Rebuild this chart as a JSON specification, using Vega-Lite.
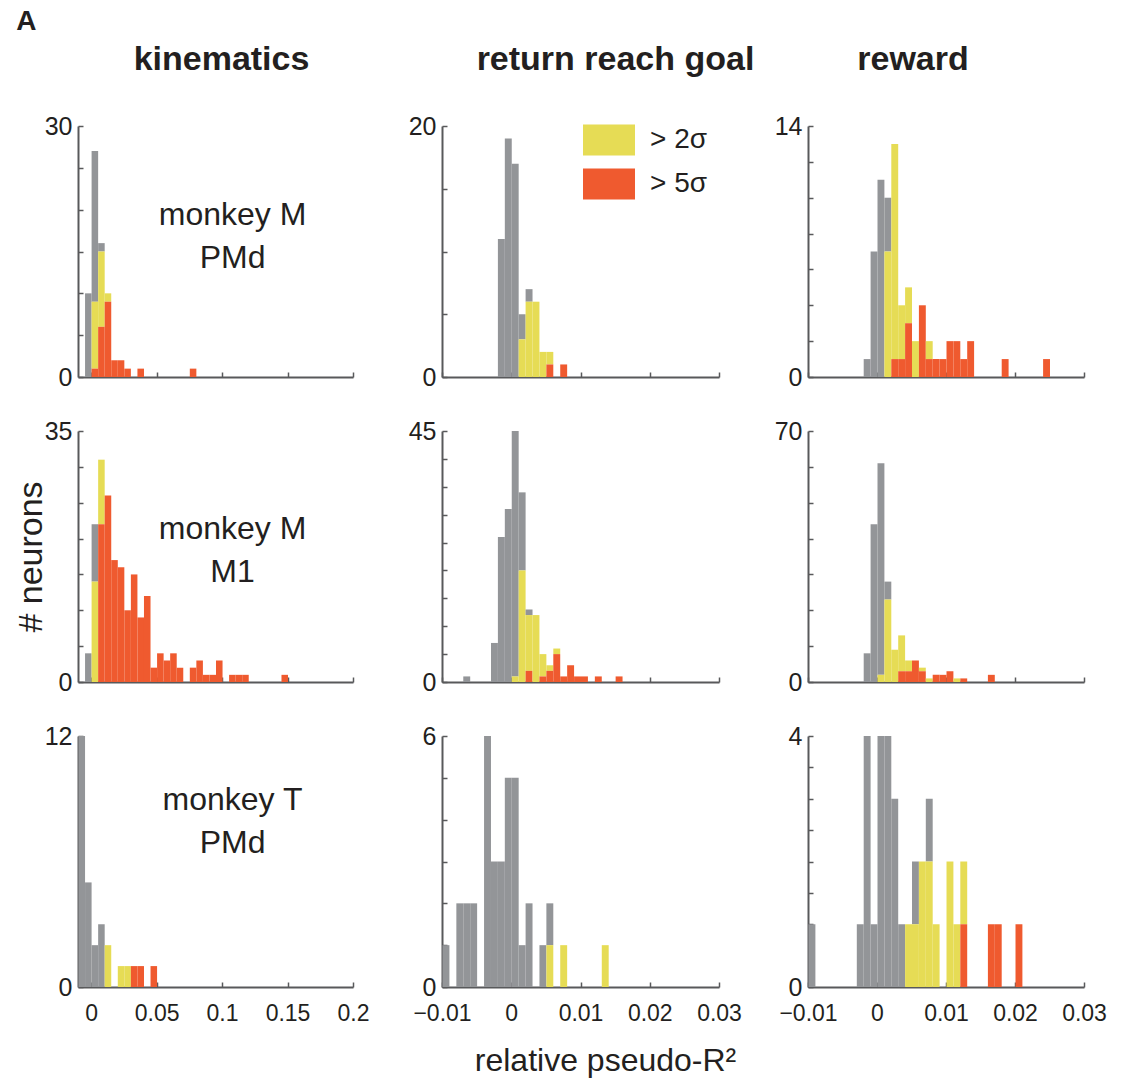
{
"$schema": "https://vega.github.io/schema/vega-lite/v6.json",
"padding": {"left": 14, "top": 8, "right": 10, "bottom": 10},
"title": {"text": "A", "anchor": "start", "frame": "bounds", "fontSize": 28, "fontWeight": "bold", "offset": 7, "dx": 2},
"data": {"values": [
{"p":"a1","x0":-0.005,"x1":0,"s":0,"n":10},
{"p":"a1","x0":0,"x1":0.005,"s":0,"n":18},{"p":"a1","x0":0,"x1":0.005,"s":2,"n":8},{"p":"a1","x0":0,"x1":0.005,"s":5,"n":1},
{"p":"a1","x0":0.005,"x1":0.01,"s":0,"n":1},{"p":"a1","x0":0.005,"x1":0.01,"s":2,"n":9},{"p":"a1","x0":0.005,"x1":0.01,"s":5,"n":6},
{"p":"a1","x0":0.01,"x1":0.015,"s":2,"n":1},{"p":"a1","x0":0.01,"x1":0.015,"s":5,"n":9},
{"p":"a1","x0":0.015,"x1":0.02,"s":5,"n":2},{"p":"a1","x0":0.02,"x1":0.025,"s":5,"n":2},
{"p":"a1","x0":0.025,"x1":0.03,"s":5,"n":1},{"p":"a1","x0":0.035,"x1":0.04,"s":5,"n":1},
{"p":"a1","x0":0.075,"x1":0.08,"s":5,"n":1},

{"p":"a2","x0":-0.005,"x1":0,"s":0,"n":4},
{"p":"a2","x0":0,"x1":0.005,"s":0,"n":8},{"p":"a2","x0":0,"x1":0.005,"s":2,"n":14},
{"p":"a2","x0":0.005,"x1":0.01,"s":2,"n":9},{"p":"a2","x0":0.005,"x1":0.01,"s":5,"n":22},
{"p":"a2","x0":0.01,"x1":0.015,"s":5,"n":26},{"p":"a2","x0":0.015,"x1":0.02,"s":5,"n":17},
{"p":"a2","x0":0.02,"x1":0.025,"s":5,"n":16},{"p":"a2","x0":0.025,"x1":0.03,"s":5,"n":10},
{"p":"a2","x0":0.03,"x1":0.035,"s":5,"n":15},{"p":"a2","x0":0.035,"x1":0.04,"s":5,"n":9},
{"p":"a2","x0":0.04,"x1":0.045,"s":5,"n":12},{"p":"a2","x0":0.045,"x1":0.05,"s":5,"n":2},
{"p":"a2","x0":0.05,"x1":0.055,"s":5,"n":4},{"p":"a2","x0":0.055,"x1":0.06,"s":5,"n":3},
{"p":"a2","x0":0.06,"x1":0.065,"s":5,"n":4},{"p":"a2","x0":0.065,"x1":0.07,"s":5,"n":2},
{"p":"a2","x0":0.075,"x1":0.08,"s":5,"n":2},{"p":"a2","x0":0.08,"x1":0.085,"s":5,"n":3},
{"p":"a2","x0":0.085,"x1":0.09,"s":5,"n":1},{"p":"a2","x0":0.09,"x1":0.095,"s":5,"n":1},
{"p":"a2","x0":0.095,"x1":0.1,"s":5,"n":3},{"p":"a2","x0":0.105,"x1":0.11,"s":5,"n":1},
{"p":"a2","x0":0.11,"x1":0.115,"s":5,"n":1},{"p":"a2","x0":0.115,"x1":0.12,"s":5,"n":1},
{"p":"a2","x0":0.145,"x1":0.15,"s":5,"n":1},

{"p":"a3","x0":-0.01,"x1":-0.005,"s":0,"n":12},{"p":"a3","x0":-0.005,"x1":0,"s":0,"n":5},
{"p":"a3","x0":0,"x1":0.005,"s":0,"n":2},{"p":"a3","x0":0.005,"x1":0.01,"s":0,"n":3},
{"p":"a3","x0":0.01,"x1":0.015,"s":2,"n":2},{"p":"a3","x0":0.02,"x1":0.025,"s":2,"n":1},
{"p":"a3","x0":0.025,"x1":0.03,"s":2,"n":1},{"p":"a3","x0":0.03,"x1":0.035,"s":5,"n":1},
{"p":"a3","x0":0.035,"x1":0.04,"s":5,"n":1},{"p":"a3","x0":0.045,"x1":0.05,"s":5,"n":1},

{"p":"b1","x0":-0.002,"x1":-0.001,"s":0,"n":11},{"p":"b1","x0":-0.001,"x1":0,"s":0,"n":19},
{"p":"b1","x0":0,"x1":0.001,"s":0,"n":17},
{"p":"b1","x0":0.001,"x1":0.002,"s":0,"n":2},{"p":"b1","x0":0.001,"x1":0.002,"s":2,"n":3},
{"p":"b1","x0":0.002,"x1":0.003,"s":0,"n":1},{"p":"b1","x0":0.002,"x1":0.003,"s":2,"n":6},
{"p":"b1","x0":0.003,"x1":0.004,"s":2,"n":6},{"p":"b1","x0":0.004,"x1":0.005,"s":2,"n":2},
{"p":"b1","x0":0.005,"x1":0.006,"s":2,"n":1},{"p":"b1","x0":0.005,"x1":0.006,"s":5,"n":1},
{"p":"b1","x0":0.007,"x1":0.008,"s":5,"n":1},

{"p":"b2","x0":-0.007,"x1":-0.006,"s":0,"n":1},{"p":"b2","x0":-0.003,"x1":-0.002,"s":0,"n":7},
{"p":"b2","x0":-0.002,"x1":-0.001,"s":0,"n":26},{"p":"b2","x0":-0.001,"x1":0,"s":0,"n":31},
{"p":"b2","x0":0,"x1":0.001,"s":0,"n":44},{"p":"b2","x0":0,"x1":0.001,"s":2,"n":1},
{"p":"b2","x0":0.001,"x1":0.002,"s":0,"n":14},{"p":"b2","x0":0.001,"x1":0.002,"s":2,"n":20},
{"p":"b2","x0":0.002,"x1":0.003,"s":0,"n":1},{"p":"b2","x0":0.002,"x1":0.003,"s":2,"n":10},{"p":"b2","x0":0.002,"x1":0.003,"s":5,"n":2},
{"p":"b2","x0":0.003,"x1":0.004,"s":2,"n":12},
{"p":"b2","x0":0.004,"x1":0.005,"s":2,"n":4},{"p":"b2","x0":0.004,"x1":0.005,"s":5,"n":1},
{"p":"b2","x0":0.005,"x1":0.006,"s":2,"n":1},{"p":"b2","x0":0.005,"x1":0.006,"s":5,"n":2},
{"p":"b2","x0":0.006,"x1":0.007,"s":2,"n":1},{"p":"b2","x0":0.006,"x1":0.007,"s":5,"n":5},
{"p":"b2","x0":0.007,"x1":0.008,"s":5,"n":1},{"p":"b2","x0":0.008,"x1":0.009,"s":5,"n":3},
{"p":"b2","x0":0.009,"x1":0.01,"s":5,"n":1},{"p":"b2","x0":0.01,"x1":0.011,"s":5,"n":1},
{"p":"b2","x0":0.012,"x1":0.013,"s":5,"n":1},{"p":"b2","x0":0.015,"x1":0.016,"s":5,"n":1},

{"p":"b3","x0":-0.01,"x1":-0.009,"s":0,"n":1},{"p":"b3","x0":-0.008,"x1":-0.007,"s":0,"n":2},
{"p":"b3","x0":-0.007,"x1":-0.006,"s":0,"n":2},{"p":"b3","x0":-0.006,"x1":-0.005,"s":0,"n":2},
{"p":"b3","x0":-0.004,"x1":-0.003,"s":0,"n":6},{"p":"b3","x0":-0.003,"x1":-0.002,"s":0,"n":3},
{"p":"b3","x0":-0.002,"x1":-0.001,"s":0,"n":3},{"p":"b3","x0":-0.001,"x1":0,"s":0,"n":5},
{"p":"b3","x0":0,"x1":0.001,"s":0,"n":5},{"p":"b3","x0":0.001,"x1":0.002,"s":0,"n":1},
{"p":"b3","x0":0.002,"x1":0.003,"s":0,"n":2},{"p":"b3","x0":0.004,"x1":0.005,"s":0,"n":1},
{"p":"b3","x0":0.005,"x1":0.006,"s":0,"n":1},{"p":"b3","x0":0.005,"x1":0.006,"s":2,"n":1},
{"p":"b3","x0":0.007,"x1":0.008,"s":2,"n":1},{"p":"b3","x0":0.013,"x1":0.014,"s":2,"n":1},

{"p":"c1","x0":-0.002,"x1":-0.001,"s":0,"n":1},{"p":"c1","x0":-0.001,"x1":0,"s":0,"n":7},
{"p":"c1","x0":0,"x1":0.001,"s":0,"n":11},
{"p":"c1","x0":0.001,"x1":0.002,"s":0,"n":3},{"p":"c1","x0":0.001,"x1":0.002,"s":2,"n":7},
{"p":"c1","x0":0.002,"x1":0.003,"s":2,"n":12},{"p":"c1","x0":0.002,"x1":0.003,"s":5,"n":1},
{"p":"c1","x0":0.003,"x1":0.004,"s":2,"n":3},{"p":"c1","x0":0.003,"x1":0.004,"s":5,"n":1},
{"p":"c1","x0":0.004,"x1":0.005,"s":2,"n":2},{"p":"c1","x0":0.004,"x1":0.005,"s":5,"n":3},
{"p":"c1","x0":0.005,"x1":0.006,"s":2,"n":2},{"p":"c1","x0":0.006,"x1":0.007,"s":5,"n":4},
{"p":"c1","x0":0.007,"x1":0.008,"s":2,"n":1},{"p":"c1","x0":0.007,"x1":0.008,"s":5,"n":1},
{"p":"c1","x0":0.008,"x1":0.009,"s":5,"n":1},{"p":"c1","x0":0.009,"x1":0.01,"s":5,"n":1},
{"p":"c1","x0":0.01,"x1":0.011,"s":5,"n":2},{"p":"c1","x0":0.011,"x1":0.012,"s":5,"n":2},
{"p":"c1","x0":0.012,"x1":0.013,"s":5,"n":1},{"p":"c1","x0":0.013,"x1":0.014,"s":5,"n":2},
{"p":"c1","x0":0.018,"x1":0.019,"s":5,"n":1},{"p":"c1","x0":0.024,"x1":0.025,"s":5,"n":1},

{"p":"c2","x0":-0.002,"x1":-0.001,"s":0,"n":8},{"p":"c2","x0":-0.001,"x1":0,"s":0,"n":44},
{"p":"c2","x0":0,"x1":0.001,"s":0,"n":59},{"p":"c2","x0":0,"x1":0.001,"s":2,"n":2},
{"p":"c2","x0":0.001,"x1":0.002,"s":0,"n":5},{"p":"c2","x0":0.001,"x1":0.002,"s":2,"n":23},
{"p":"c2","x0":0.002,"x1":0.003,"s":2,"n":9},
{"p":"c2","x0":0.003,"x1":0.004,"s":2,"n":10},{"p":"c2","x0":0.003,"x1":0.004,"s":5,"n":3},
{"p":"c2","x0":0.004,"x1":0.005,"s":2,"n":3},{"p":"c2","x0":0.004,"x1":0.005,"s":5,"n":3},
{"p":"c2","x0":0.005,"x1":0.006,"s":5,"n":6},
{"p":"c2","x0":0.006,"x1":0.007,"s":2,"n":1},{"p":"c2","x0":0.006,"x1":0.007,"s":5,"n":3},
{"p":"c2","x0":0.007,"x1":0.008,"s":2,"n":1},{"p":"c2","x0":0.008,"x1":0.009,"s":5,"n":2},
{"p":"c2","x0":0.009,"x1":0.01,"s":5,"n":2},{"p":"c2","x0":0.01,"x1":0.011,"s":5,"n":3},
{"p":"c2","x0":0.011,"x1":0.012,"s":2,"n":1},{"p":"c2","x0":0.012,"x1":0.013,"s":5,"n":1},
{"p":"c2","x0":0.016,"x1":0.017,"s":5,"n":2},

{"p":"c3","x0":-0.01,"x1":-0.009,"s":0,"n":1},{"p":"c3","x0":-0.003,"x1":-0.002,"s":0,"n":1},
{"p":"c3","x0":-0.002,"x1":-0.001,"s":0,"n":4},{"p":"c3","x0":-0.001,"x1":0,"s":0,"n":1},
{"p":"c3","x0":0,"x1":0.001,"s":0,"n":4},{"p":"c3","x0":0.001,"x1":0.002,"s":0,"n":4},
{"p":"c3","x0":0.002,"x1":0.003,"s":0,"n":3},{"p":"c3","x0":0.003,"x1":0.004,"s":0,"n":1},
{"p":"c3","x0":0.004,"x1":0.005,"s":2,"n":1},
{"p":"c3","x0":0.005,"x1":0.006,"s":0,"n":1},{"p":"c3","x0":0.005,"x1":0.006,"s":2,"n":1},
{"p":"c3","x0":0.006,"x1":0.007,"s":2,"n":2},
{"p":"c3","x0":0.007,"x1":0.008,"s":0,"n":1},{"p":"c3","x0":0.007,"x1":0.008,"s":2,"n":2},
{"p":"c3","x0":0.008,"x1":0.009,"s":2,"n":1},{"p":"c3","x0":0.01,"x1":0.011,"s":2,"n":2},
{"p":"c3","x0":0.011,"x1":0.012,"s":2,"n":1},
{"p":"c3","x0":0.012,"x1":0.013,"s":2,"n":1},{"p":"c3","x0":0.012,"x1":0.013,"s":5,"n":1},
{"p":"c3","x0":0.016,"x1":0.017,"s":5,"n":1},{"p":"c3","x0":0.017,"x1":0.018,"s":5,"n":1},
{"p":"c3","x0":0.02,"x1":0.021,"s":5,"n":1}
]},
"columns": 3,
"spacing": {"row": 54, "column": 89},
"bounds": "flush",
"resolve": {"scale": {"x": "independent", "y": "independent", "color": "independent"}},
"concat": [
{"width": 275, "height": 251, "title": {"text": "kinematics", "offset": 37, "dx": 6},
 "layer": [
 {"transform": [{"filter": "datum.p == 'a1'"}], "mark": {"type": "bar", "binSpacing": 0},
  "encoding": {
   "x": {"field": "x0", "type": "quantitative", "bin": {"binned": true}, "scale": {"domain": [-0.01, 0.2], "nice": false, "zero": false}, "axis": {"values": [0, 0.05, 0.1, 0.15, 0.2], "tickCount": 20, "labels": false, "title": null}},
   "x2": {"field": "x1"},
   "y": {"field": "n", "type": "quantitative", "stack": "zero", "scale": {"domain": [0, 30], "nice": false}, "axis": {"values": [0, 5, 10, 15, 20, 25, 30], "tickCount": 20, "labelExpr": "datum.value == 0 || datum.value == 30 ? '' + datum.value : ''", "title": null}},
   "color": {"field": "s", "type": "ordinal", "scale": {"domain": [0, 2, 5], "range": ["#939598", "#e6dc55", "#ef5a2f"]}, "legend": null},
   "order": {"field": "s", "type": "quantitative", "sort": "descending"}}},
 {"data": {"values": [{}]}, "mark": {"type": "text", "text": ["monkey M", "PMd"], "fontSize": 32, "lineHeight": 43, "baseline": "middle", "font": "Liberation Sans", "color": "#231f20"},
  "encoding": {"x": {"datum": 0.108}, "y": {"datum": 19.4}}}
 ]},
{"width": 277, "height": 251, "title": {"text": "return reach goal", "offset": 37, "dx": 35},
 "transform": [{"filter": "datum.p == 'b1'"}], "mark": {"type": "bar", "binSpacing": 0},
 "encoding": {
  "x": {"field": "x0", "type": "quantitative", "bin": {"binned": true}, "scale": {"domain": [-0.01, 0.03], "nice": false, "zero": false}, "axis": {"values": [-0.01, 0, 0.01, 0.02, 0.03], "labels": false, "title": null}},
  "x2": {"field": "x1"},
  "y": {"field": "n", "type": "quantitative", "stack": "zero", "scale": {"domain": [0, 20], "nice": false}, "axis": {"values": [0, 5, 10, 15, 20], "tickCount": 20, "labelExpr": "datum.value == 0 || datum.value == 20 ? '' + datum.value : ''", "title": null}},
  "color": {"field": "s", "type": "ordinal", "scale": {"domain": [0, 2, 5], "range": ["#939598", "#e6dc55", "#ef5a2f"]},
   "legend": {"orient": "none", "legendX": 141, "legendY": -12, "values": [2, 5], "labelExpr": "'> ' + datum.value + 'σ'", "symbolType": "M-1,-0.596H1V0.596H-1Z", "symbolSize": 2704, "symbolStrokeWidth": 0, "symbolOpacity": 1, "labelFontSize": 28, "labelFont": "Liberation Sans", "labelColor": "#231f20", "labelOffset": 15, "rowPadding": 2, "title": null}},
  "order": {"field": "s", "type": "quantitative", "sort": "descending"}}},
{"width": 276, "height": 251, "title": {"text": "reward", "offset": 37, "dx": -33},
 "transform": [{"filter": "datum.p == 'c1'"}], "mark": {"type": "bar", "binSpacing": 0},
 "encoding": {
  "x": {"field": "x0", "type": "quantitative", "bin": {"binned": true}, "scale": {"domain": [-0.01, 0.03], "nice": false, "zero": false}, "axis": {"values": [-0.01, 0, 0.01, 0.02, 0.03], "labels": false, "title": null}},
  "x2": {"field": "x1"},
  "y": {"field": "n", "type": "quantitative", "stack": "zero", "scale": {"domain": [0, 14], "nice": false}, "axis": {"values": [0, 2, 4, 6, 8, 10, 12, 14], "tickCount": 20, "labelExpr": "datum.value == 0 || datum.value == 14 ? '' + datum.value : ''", "title": null}},
  "color": {"field": "s", "type": "ordinal", "scale": {"domain": [0, 2, 5], "range": ["#939598", "#e6dc55", "#ef5a2f"]}, "legend": null},
  "order": {"field": "s", "type": "quantitative", "sort": "descending"}}},

{"width": 275, "height": 251,
 "layer": [
 {"transform": [{"filter": "datum.p == 'a2'"}], "mark": {"type": "bar", "binSpacing": 0},
  "encoding": {
   "x": {"field": "x0", "type": "quantitative", "bin": {"binned": true}, "scale": {"domain": [-0.01, 0.2], "nice": false, "zero": false}, "axis": {"values": [0, 0.05, 0.1, 0.15, 0.2], "tickCount": 20, "labels": false, "title": null}},
   "x2": {"field": "x1"},
   "y": {"field": "n", "type": "quantitative", "stack": "zero", "scale": {"domain": [0, 35], "nice": false}, "axis": {"values": [0, 5, 10, 15, 20, 25, 30, 35], "tickCount": 20, "labelExpr": "datum.value == 0 || datum.value == 35 ? '' + datum.value : ''", "title": "# neurons", "titleFontSize": 34, "titlePadding": -4}},
   "color": {"field": "s", "type": "ordinal", "scale": {"domain": [0, 2, 5], "range": ["#939598", "#e6dc55", "#ef5a2f"]}, "legend": null},
   "order": {"field": "s", "type": "quantitative", "sort": "descending"}}},
 {"data": {"values": [{}]}, "mark": {"type": "text", "text": ["monkey M", "M1"], "fontSize": 32, "lineHeight": 43, "baseline": "middle", "font": "Liberation Sans", "color": "#231f20"},
  "encoding": {"x": {"datum": 0.108}, "y": {"datum": 21.4}}}
 ]},
{"width": 277, "height": 251,
 "transform": [{"filter": "datum.p == 'b2'"}], "mark": {"type": "bar", "binSpacing": 0},
 "encoding": {
  "x": {"field": "x0", "type": "quantitative", "bin": {"binned": true}, "scale": {"domain": [-0.01, 0.03], "nice": false, "zero": false}, "axis": {"values": [-0.01, 0, 0.01, 0.02, 0.03], "labels": false, "title": null}},
  "x2": {"field": "x1"},
  "y": {"field": "n", "type": "quantitative", "stack": "zero", "scale": {"domain": [0, 45], "nice": false}, "axis": {"values": [0, 5, 10, 15, 20, 25, 30, 35, 40, 45], "tickCount": 20, "labelExpr": "datum.value == 0 || datum.value == 45 ? '' + datum.value : ''", "title": null}},
  "color": {"field": "s", "type": "ordinal", "scale": {"domain": [0, 2, 5], "range": ["#939598", "#e6dc55", "#ef5a2f"]}, "legend": null},
  "order": {"field": "s", "type": "quantitative", "sort": "descending"}}},
{"width": 276, "height": 251,
 "transform": [{"filter": "datum.p == 'c2'"}], "mark": {"type": "bar", "binSpacing": 0},
 "encoding": {
  "x": {"field": "x0", "type": "quantitative", "bin": {"binned": true}, "scale": {"domain": [-0.01, 0.03], "nice": false, "zero": false}, "axis": {"values": [-0.01, 0, 0.01, 0.02, 0.03], "labels": false, "title": null}},
  "x2": {"field": "x1"},
  "y": {"field": "n", "type": "quantitative", "stack": "zero", "scale": {"domain": [0, 70], "nice": false}, "axis": {"values": [0, 10, 20, 30, 40, 50, 60, 70], "tickCount": 20, "labelExpr": "datum.value == 0 || datum.value == 70 ? '' + datum.value : ''", "title": null}},
  "color": {"field": "s", "type": "ordinal", "scale": {"domain": [0, 2, 5], "range": ["#939598", "#e6dc55", "#ef5a2f"]}, "legend": null},
  "order": {"field": "s", "type": "quantitative", "sort": "descending"}}},

{"width": 275, "height": 251,
 "layer": [
 {"transform": [{"filter": "datum.p == 'a3'"}], "mark": {"type": "bar", "binSpacing": 0},
  "encoding": {
   "x": {"field": "x0", "type": "quantitative", "bin": {"binned": true}, "scale": {"domain": [-0.01, 0.2], "nice": false, "zero": false}, "axis": {"values": [0, 0.05, 0.1, 0.15, 0.2], "tickCount": 20, "format": "~g", "title": null}},
   "x2": {"field": "x1"},
   "y": {"field": "n", "type": "quantitative", "stack": "zero", "scale": {"domain": [0, 12], "nice": false}, "axis": {"values": [0, 2, 4, 6, 8, 10, 12], "tickCount": 20, "labelExpr": "datum.value == 0 || datum.value == 12 ? '' + datum.value : ''", "title": null}},
   "color": {"field": "s", "type": "ordinal", "scale": {"domain": [0, 2, 5], "range": ["#939598", "#e6dc55", "#ef5a2f"]}, "legend": null},
   "order": {"field": "s", "type": "quantitative", "sort": "descending"}}},
 {"data": {"values": [{}]}, "mark": {"type": "text", "text": ["monkey T", "PMd"], "fontSize": 32, "lineHeight": 43, "baseline": "middle", "font": "Liberation Sans", "color": "#231f20"},
  "encoding": {"x": {"datum": 0.108}, "y": {"datum": 8.94}}}
 ]},
{"width": 277, "height": 251,
 "transform": [{"filter": "datum.p == 'b3'"}], "mark": {"type": "bar", "binSpacing": 0},
 "encoding": {
  "x": {"field": "x0", "type": "quantitative", "bin": {"binned": true}, "scale": {"domain": [-0.01, 0.03], "nice": false, "zero": false}, "axis": {"values": [-0.01, 0, 0.01, 0.02, 0.03], "format": "~g", "title": "relative pseudo-R²", "titleFontSize": 32, "titleX": 163, "titleAlign": "center", "titlePadding": 20}},
  "x2": {"field": "x1"},
  "y": {"field": "n", "type": "quantitative", "stack": "zero", "scale": {"domain": [0, 6], "nice": false}, "axis": {"values": [0, 1, 2, 3, 4, 5, 6], "tickCount": 20, "labelExpr": "datum.value == 0 || datum.value == 6 ? '' + datum.value : ''", "title": null}},
  "color": {"field": "s", "type": "ordinal", "scale": {"domain": [0, 2, 5], "range": ["#939598", "#e6dc55", "#ef5a2f"]}, "legend": null},
  "order": {"field": "s", "type": "quantitative", "sort": "descending"}}},
{"width": 276, "height": 251,
 "transform": [{"filter": "datum.p == 'c3'"}], "mark": {"type": "bar", "binSpacing": 0},
 "encoding": {
  "x": {"field": "x0", "type": "quantitative", "bin": {"binned": true}, "scale": {"domain": [-0.01, 0.03], "nice": false, "zero": false}, "axis": {"values": [-0.01, 0, 0.01, 0.02, 0.03], "format": "~g", "title": null}},
  "x2": {"field": "x1"},
  "y": {"field": "n", "type": "quantitative", "stack": "zero", "scale": {"domain": [0, 4], "nice": false}, "axis": {"values": [0, 0.5, 1, 1.5, 2, 2.5, 3, 3.5, 4], "tickCount": 20, "labelExpr": "datum.value == 0 || datum.value == 4 ? '' + datum.value : ''", "title": null}},
  "color": {"field": "s", "type": "ordinal", "scale": {"domain": [0, 2, 5], "range": ["#939598", "#e6dc55", "#ef5a2f"]}, "legend": null},
  "order": {"field": "s", "type": "quantitative", "sort": "descending"}}}
],
"config": {
 "view": {"stroke": null},
 "font": "Liberation Sans",
 "axis": {"grid": false, "domainColor": "#58595b", "domainWidth": 2, "tickColor": "#58595b", "tickWidth": 1.5, "tickSize": -5, "labelPadding": 11, "labelFont": "Liberation Sans", "labelColor": "#231f20", "labelFlush": false, "labelOverlap": false, "titleFont": "Liberation Sans", "titleFontWeight": "normal", "titleFontSize": 31, "titleColor": "#231f20"},
 "axisX": {"labelFontSize": 23, "labelPadding": 20},
 "axisY": {"labelFontSize": 25},
 "title": {"font": "Liberation Sans", "fontSize": 34, "fontWeight": "bold", "color": "#231f20", "baseline": "alphabetic"}
}
}
